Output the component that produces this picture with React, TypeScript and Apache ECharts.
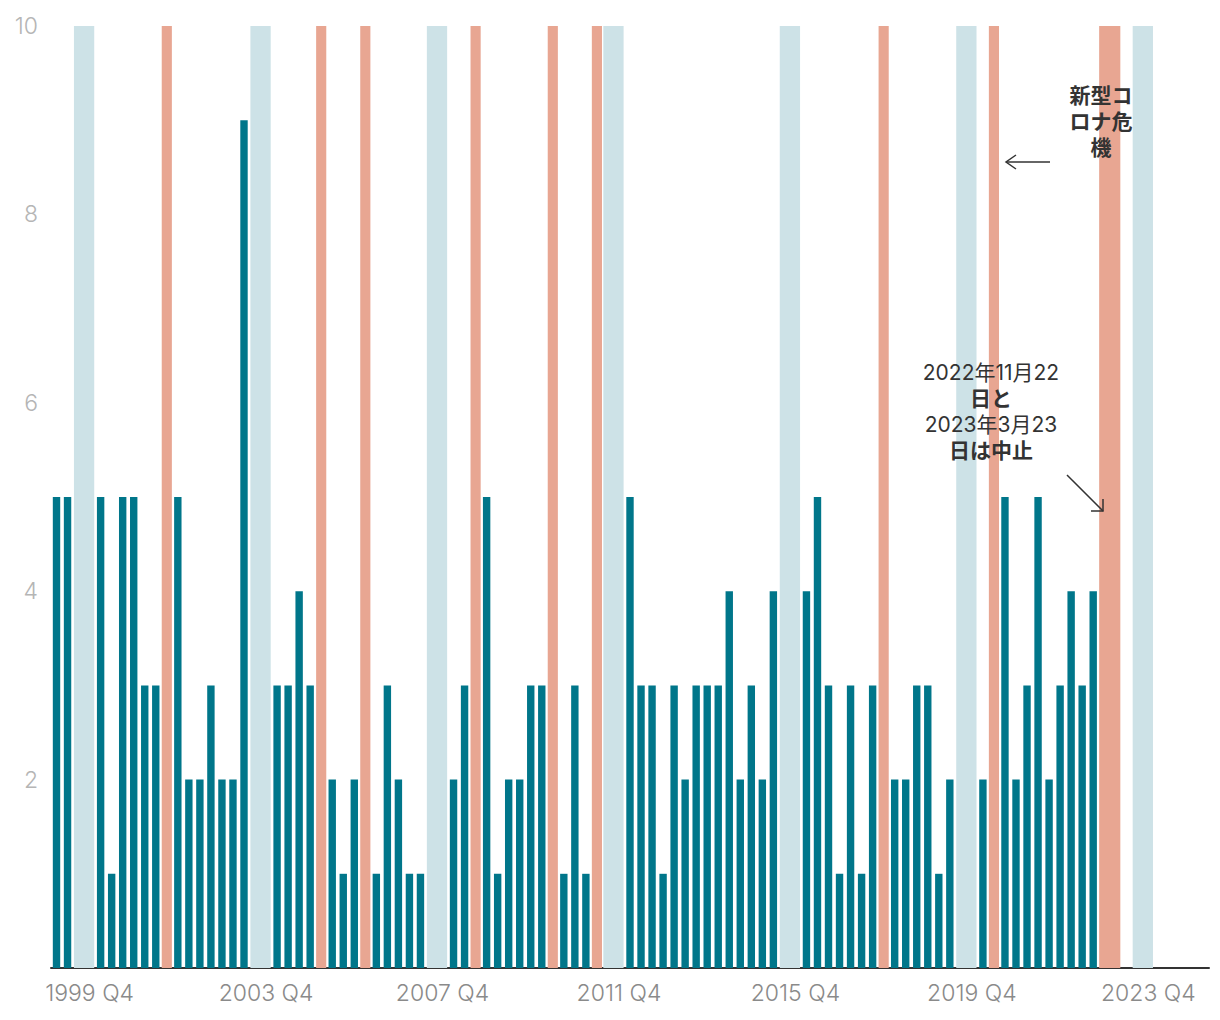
import React, { useEffect, useRef } from 'react';
import * as echarts from 'echarts';

// ---- data ----
const firstYear = 1999;
const quarterCount = 105;
const categories: string[] = [];
for (let i = 0; i < quarterCount; i++) {
  categories.push(`${firstYear + Math.floor(i / 4)} Q${(i % 4) + 1}`);
}

// number per quarter (null = no bar)
const counts: (number | null)[] = [
  5, 5, null, null, 5, 1, 5, 5, 3, 3,
  null, 5, 2, 2, 3, 2, 2, 9, null, null,
  3, 3, 4, 3, null, 2, 1, 2, null, 1,
  3, 2, 1, 1, null, null, 2, 3, null, 5,
  1, 2, 2, 3, 3, null, 1, 3, 1, null,
  null, null, 5, 3, 3, 1, 3, 2, 3, 3,
  3, 4, 2, 3, 2, 4, null, null, 4, 5,
  3, 1, 3, 1, 3, null, 2, 2, 3, 3,
  1, 2, null, null, 2, null, 5, 2, 3, 5,
  2, 3, 4, 3, 4, null, null, null, null, null,
  null, null, null, null, null,
];

const blueBands: [string, string][] = [
  ['1999 Q3', '1999 Q4'],
  ['2003 Q3', '2003 Q4'],
  ['2007 Q3', '2007 Q4'],
  ['2011 Q3', '2011 Q4'],
  ['2015 Q3', '2015 Q4'],
  ['2019 Q3', '2019 Q4'],
  ['2023 Q3', '2023 Q4'],
];

const salmonBands: [string, string][] = [
  ['2001 Q3', '2001 Q3'],
  ['2005 Q1', '2005 Q1'],
  ['2006 Q1', '2006 Q1'],
  ['2008 Q3', '2008 Q3'],
  ['2010 Q2', '2010 Q2'],
  ['2011 Q2', '2011 Q2'],
  ['2017 Q4', '2017 Q4'],
  ['2020 Q2', '2020 Q2'],
  ['2022 Q4', '2023 Q1'],
];

const xTickLabels = ['1999 Q4', '2003 Q4', '2007 Q4', '2011 Q4', '2015 Q4', '2019 Q4', '2023 Q4'];
const yMax = 10;
const yInterval = 2;

const covidNote = '新型コ\nロナ危\n機';
const cancelNoteLines = ['2022年11月22', '日と', '2023年3月23', '日は中止'];

const TEAL = '#00768a';
const BLUE = '#cde2e7';
const SALMON = '#e8a692';

function bandRenderer(color: string, pad: number) {
  return (_params: any, api: any) => {
    const start = api.value(0);
    const end = api.value(1);
    const top = api.coord([start, api.value(2)]);
    const bottom = api.coord([end, 0]);
    const bw = api.size([1, 0])[0];
    const x0 = top[0] - bw * pad;
    const x1 = bottom[0] + bw * pad;
    return {
      type: 'rect',
      shape: { x: x0, y: top[1], width: x1 - x0, height: bottom[1] - top[1] },
      style: { fill: color },
    };
  };
}

const bandData = (bands: [string, string][]) =>
  bands.map(([a, b]) => [categories.indexOf(a), categories.indexOf(b), yMax]);

export default function App() {
  const ref = useRef<HTMLDivElement>(null);
  useEffect(() => {
    if (!ref.current) return;
    const chart = echarts.init(ref.current, null, { renderer: 'svg' });
    const labelFont = 'Inter, Roboto, sans-serif';
    const cjkFont = 'Inter, "Noto Sans CJK JP", sans-serif';
    chart.setOption({
      animation: false,
      backgroundColor: '#ffffff',
      grid: { left: 51, right: 11, top: 26, bottom: 52, containLabel: false },
      xAxis: {
        type: 'category',
        data: categories,
        boundaryGap: true,
        axisTick: { show: false },
        axisLine: { show: true, lineStyle: { color: '#333333', width: 2 } },
        axisLabel: {
          interval: (_i: number, v: string) => xTickLabels.includes(v),
          color: '#8a8a8a',
          fontSize: 23,
          fontWeight: 300,
          fontFamily: labelFont,
          margin: 13,
        },
        splitLine: { show: false },
      },
      yAxis: {
        type: 'value',
        min: 0,
        max: yMax,
        interval: yInterval,
        axisLine: { show: false },
        axisTick: { show: false },
        splitLine: { show: false },
        axisLabel: {
          showMinLabel: false,
          color: '#b5b5b5',
          fontSize: 23,
          fontWeight: 300,
          fontFamily: labelFont,
          margin: 13,
        },
      },
      series: [
        {
          type: 'custom',
          name: 'blue',
          renderItem: bandRenderer(BLUE, 0.42),
          encode: { x: [0, 1], y: 2 },
          data: bandData(blueBands),
          z: 1,
          silent: true,
        },
        {
          type: 'custom',
          name: 'salmon',
          renderItem: bandRenderer(SALMON, 0.46),
          encode: { x: [0, 1], y: 2 },
          data: bandData(salmonBands),
          z: 1,
          silent: true,
        },
        {
          type: 'bar',
          name: 'count',
          data: counts,
          barWidth: 7.4,
          itemStyle: { color: TEAL },
          z: 2,
        },
      ],
      graphic: [
        {
          type: 'text',
          x: 1101,
          y: 121,
          z: 100,
          style: {
            text: covidNote,
            fill: '#333333',
            font: `bold 21px ${cjkFont}`,
            lineHeight: 26,
            align: 'center',
            verticalAlign: 'middle',
          },
        },
        {
          type: 'line',
          z: 100,
          shape: { x1: 1050, y1: 162, x2: 1006, y2: 162 },
          style: { stroke: '#333333', lineWidth: 1.5 },
        },
        {
          type: 'polyline',
          z: 100,
          shape: { points: [[1016, 155], [1006, 162], [1016, 169]] },
          style: { stroke: '#333333', lineWidth: 1.5, fill: 'none' },
        },
        {
          type: 'text',
          x: 991,
          y: 411,
          z: 100,
          style: {
            text: cancelNoteLines
              .map((l, i) => (i % 2 === 0 ? `{n|${l}}` : `{b|${l}}`))
              .join('\n'),
            fill: '#333333',
            align: 'center',
            verticalAlign: 'middle',
            rich: {
              n: { fontSize: 21, fontWeight: 'normal', fontFamily: cjkFont, lineHeight: 26, fill: '#333333' },
              b: { fontSize: 21, fontWeight: 'bold', fontFamily: cjkFont, lineHeight: 26, fill: '#333333' },
            },
          },
        },
        {
          type: 'line',
          z: 100,
          shape: { x1: 1067, y1: 475, x2: 1103, y2: 511 },
          style: { stroke: '#333333', lineWidth: 1.5 },
        },
        {
          type: 'polyline',
          z: 100,
          shape: { points: [[1103, 499], [1103, 511], [1091, 511]] },
          style: { stroke: '#333333', lineWidth: 1.5, fill: 'none' },
        },
      ],
    });
    return () => chart.dispose();
  }, []);
  return (
    <div
      ref={ref}
      style={{ position: 'fixed', left: 0, top: 0, width: 1220, height: 1020, background: '#fff' }}
    />
  );
}
